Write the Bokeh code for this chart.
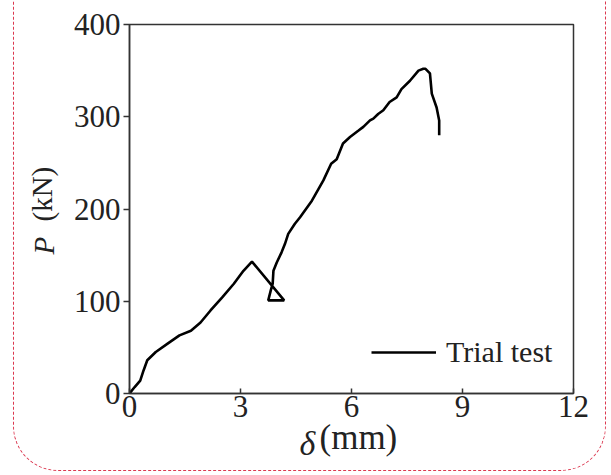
from bokeh.plotting import figure
from bokeh.models import Range1d, FixedTicker, Label, Legend, LegendItem, InlineStyleSheet
from bokeh.embed import file_html
from bokeh.resources import INLINE

# Data (displacement delta in mm, load P in kN)
delta = [0, 0.14, 0.29, 0.38, 0.48, 0.71, 1.03, 1.35, 1.66, 1.92, 2.19, 2.5, 2.82,
         3.08, 3.31, 4.18, 3.75, 3.82, 3.87, 3.89, 3.98, 4.11, 4.2, 4.29, 4.47,
         4.61, 4.93, 5.24, 5.45, 5.6, 5.77, 5.96, 6.19, 6.32, 6.5, 6.59, 6.72,
         6.86, 7.03, 7.22, 7.35, 7.58, 7.81, 7.94, 8.0, 8.12, 8.17, 8.3, 8.37, 8.37]
load = [0, 7, 14, 25, 36, 45, 54, 63, 68, 77, 90, 104, 119,
        133, 143, 101, 101, 112, 119, 133, 142, 153, 162, 173, 184,
        191, 209, 231, 249, 254, 271, 278, 285, 289, 296, 298, 303,
        307, 316, 321, 330, 339, 350, 352, 352, 347, 325, 310, 296, 280]
x_ticks = [0, 3, 6, 9, 12]
y_ticks = [0, 100, 200, 300, 400]
series_name = "Trial test"

FONT = "Liberation Serif"
TXT = "#222222"

p = figure(width=611, height=475, output_backend="svg", toolbar_location=None,
           x_range=Range1d(0, 12), y_range=Range1d(0, 400),
           min_border_left=129, min_border_right=38, min_border_top=24, min_border_bottom=82)
p.grid.visible = False
p.background_fill_color = "white"
p.border_fill_color = "white"
p.outline_line_color = "#333333"
p.outline_line_width = 1.5

for ax in (p.xaxis[0], p.yaxis[0]):
    ax.axis_line_color = "#333333"
    ax.axis_line_width = 1.5
    ax.major_tick_line_color = "#333333"
    ax.major_tick_line_width = 1.5
    ax.minor_tick_line_color = None
    ax.major_label_text_font = FONT
    ax.major_label_text_font_size = "31px"
    ax.major_label_text_color = TXT

p.xaxis.ticker = FixedTicker(ticks=x_ticks)
p.yaxis.ticker = FixedTicker(ticks=y_ticks)
p.xaxis.major_tick_in = 5
p.xaxis.major_tick_out = 0
p.yaxis.major_tick_in = 0
p.yaxis.major_tick_out = 6
p.xaxis.major_label_standoff = 2
p.yaxis.major_label_standoff = 3

r = p.line(delta, load, line_color="black", line_width=2.6)

legend = Legend(items=[LegendItem(label=series_name, renderers=[r])],
                location=(242, 24), glyph_width=65, glyph_height=34,
                label_standoff=10, padding=0, margin=0, spacing=0,
                label_text_font=FONT, label_text_font_size="30px", label_text_color=TXT,
                border_line_alpha=0, background_fill_alpha=0)
p.add_layout(legend)

# axis titles (italic symbol + upright unit), placed in side panels with spare room
p.add_layout(Label(x=190, y=21, x_units="screen", y_units="screen", text="(mm)",
                   text_font=FONT, text_font_size="35px",
                   text_color=TXT, text_align="left", text_baseline="alphabetic"), "below")
p.add_layout(Label(x=-274, y=-50, x_units="screen", y_units="screen", text="δ",
                   text_font=FONT, text_font_style="italic", text_font_size="34px",
                   text_color=TXT, text_align="left", text_baseline="alphabetic"), "right")
p.add_layout(Label(x=5, y=139, x_units="screen", y_units="screen", text="P",
                   text_font=FONT, text_font_style="italic", text_font_size="29px",
                   text_color=TXT, text_align="left", text_baseline="alphabetic", angle=1.5708), "left")
p.add_layout(Label(x=36, y=172, x_units="screen", y_units="screen", text="(kN)",
                   text_font=FONT, text_font_size="29px",
                   text_color=TXT, text_align="left", text_baseline="alphabetic", angle=1.5708), "left")

# dashed rounded frame around the figure
p.stylesheets = [InlineStyleSheet(css=":host::after { content: ''; position: absolute; left: 13px; top: -60px; width: 593px; height: 531px; border: 1.5px dashed #dc3850; border-radius: 45px; pointer-events: none; box-sizing: border-box; }")]

open("out.html", "w").write(file_html(p, INLINE))
